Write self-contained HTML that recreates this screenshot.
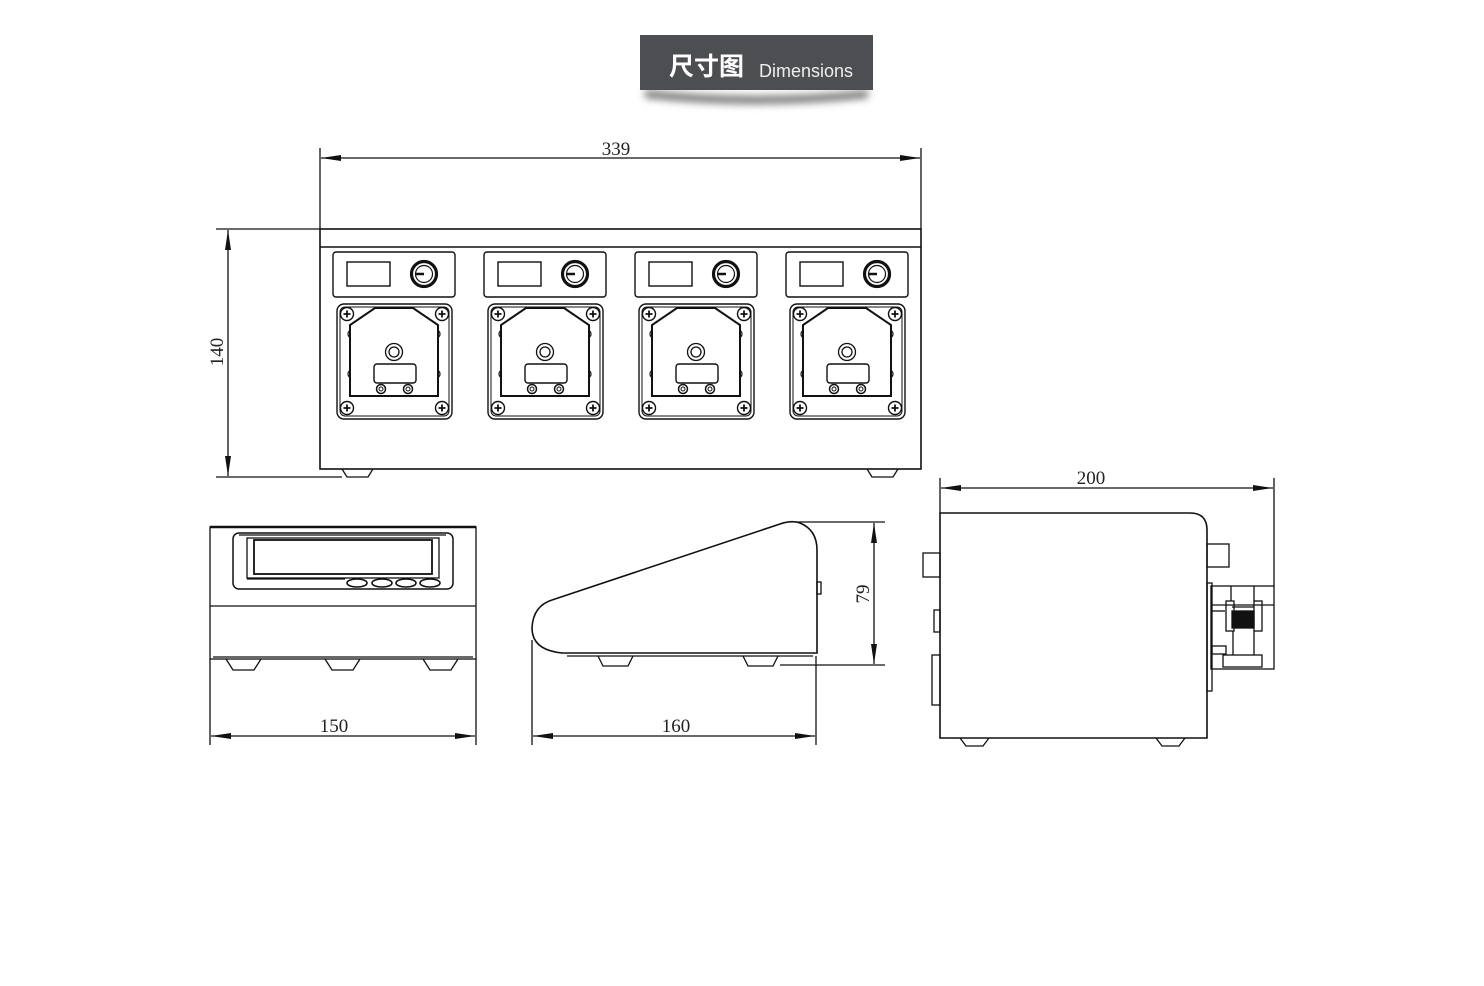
<!DOCTYPE html>
<html><head><meta charset="utf-8"><style>
html,body{margin:0;padding:0;background:#fff;}
svg{display:block}
text{font-family:"Liberation Serif",serif;font-size:19px;fill:#222}
</style></head><body>
<svg width="1484" height="986" viewBox="0 0 1484 986" xmlns="http://www.w3.org/2000/svg">
<defs>
<filter id="sh" x="-20%" y="-50%" width="140%" height="250%"><feGaussianBlur stdDeviation="4"/></filter>
<marker id="a" viewBox="0 0 20 6" refX="20" refY="3" markerWidth="20" markerHeight="6" markerUnits="userSpaceOnUse" orient="auto-start-reverse"><path d="M0,0 L20,3 L0,6 Z" fill="#111"/></marker>
<g id="mod" fill="none" stroke="#111">
  <rect x="333" y="252" width="122" height="45" rx="3" stroke-width="1.4"/>
  <rect x="347" y="262" width="43" height="24" stroke-width="1.4"/>
  <circle cx="424" cy="274" r="12.5" stroke-width="3.2"/>
  <circle cx="424" cy="274" r="8.5" stroke-width="1.2"/>
  <line x1="416" y1="274" x2="424" y2="274" stroke-width="2.5"/>
  <rect x="337" y="304" width="115" height="115" rx="7" stroke-width="1.4"/>
  <rect x="340" y="307" width="109" height="109" rx="5" stroke-width="1"/>
  <g stroke-width="1.4">
   <circle cx="347" cy="314" r="6.5"/><circle cx="442" cy="314" r="6.5"/><circle cx="347" cy="408" r="6.5"/><circle cx="442" cy="408" r="6.5"/>
  </g>
  <path d="M343.5,314h7M347,310.5v7M438.5,314h7M442,310.5v7M343.5,408h7M347,404.5v7M438.5,408h7M442,404.5v7" stroke-width="1.8"/>
  <path d="M350,396 V325 L375,308 H413 L438,325 V396 Z" stroke-width="2"/>
  <path d="M350,331 a2,3 0 0 0 0,6 M350,371 a2,3 0 0 0 0,6 M438,331 a2,3 0 0 1 0,6 M438,371 a2,3 0 0 1 0,6" stroke-width="1.2"/>
  <circle cx="394" cy="352" r="8.5" stroke-width="1.3"/>
  <circle cx="394" cy="352" r="5" stroke-width="1.3"/>
  <rect x="374" y="364" width="42" height="19" rx="3" stroke-width="1.4"/>
  <circle cx="381" cy="389" r="4.5" stroke-width="1.5"/><circle cx="381" cy="389" r="2" stroke-width="1"/>
  <circle cx="408" cy="389" r="4.5" stroke-width="1.5"/><circle cx="408" cy="389" r="2" stroke-width="1"/>
</g>
</defs>

<!-- title -->
<path d="M645,90 Q756,102 868,90 L868,98 Q756,110 645,98 Z" fill="#777" filter="url(#sh)"/>
<rect x="640" y="35" width="233" height="55" fill="#4d4e52"/>
<text x="669" y="75" style="font-family:'Noto Sans CJK SC','WenQuanYi Zen Hei',sans-serif;font-size:25px;font-weight:bold;fill:#fff">尺寸图</text>
<text x="759" y="77" style="font-family:'Liberation Sans',sans-serif;font-size:18px;fill:#eee">Dimensions</text>

<g fill="none" stroke="#111" stroke-width="1.3">
<!-- front view -->
<line x1="320" y1="148" x2="320" y2="229"/><line x1="921" y1="148" x2="921" y2="229"/>
<line x1="321" y1="158" x2="920" y2="158" marker-start="url(#a)" marker-end="url(#a)"/>
<line x1="216" y1="229" x2="320" y2="229"/><line x1="216" y1="477" x2="342" y2="477"/>
<line x1="228" y1="230" x2="228" y2="476" marker-start="url(#a)" marker-end="url(#a)"/>
<rect x="320" y="229" width="601" height="240" stroke-width="1.6"/>
<line x1="320" y1="247" x2="921" y2="247" stroke-width="1.6"/>
<path d="M342,469 L347,477 H368 L373,469 M867,469 L872,477 H893 L898,469"/>

<!-- left side view -->
<rect x="210" y="527" width="266" height="132"/>
<line x1="210" y1="527" x2="476" y2="527" stroke-width="2.5"/>
<line x1="210" y1="606" x2="476" y2="606"/>
<line x1="213" y1="657" x2="473" y2="657"/>
<rect x="233" y="533" width="220" height="56" rx="6" stroke-width="1.5"/>
<line x1="239" y1="535" x2="446" y2="535"/>
<rect x="247" y="538" width="192" height="40"/>
<rect x="254" y="540" width="178" height="34" stroke-width="1.8"/>
<line x1="247" y1="579" x2="345" y2="579"/>
<g stroke-width="1.6"><ellipse cx="357" cy="583" rx="10" ry="4"/><ellipse cx="382" cy="583" rx="10" ry="4"/><ellipse cx="406" cy="583" rx="10" ry="4"/><ellipse cx="430" cy="583" rx="10" ry="4"/></g>
<path d="M226,659 L233,670 H254 L261,659 M325,659 L332,670 H353 L360,659 M423,659 L430,670 H451 L458,659"/>
<line x1="210" y1="659" x2="210" y2="745"/><line x1="476" y1="659" x2="476" y2="745"/>
<line x1="211" y1="736" x2="475" y2="736" marker-start="url(#a)" marker-end="url(#a)"/>

<!-- wedge view -->
<path d="M562,653 Q532,650 532,628 Q533,606 552,600 L780,524 Q792,520 800,523 Q817,530 817,550 V653 Z" stroke-width="1.6"/>
<line x1="567" y1="656" x2="813" y2="656"/>
<path d="M598,656 L603,666 H628 L633,656 M743,656 L748,666 H773 L778,656"/>
<rect x="817" y="582" width="4" height="12"/>
<line x1="532" y1="640" x2="532" y2="745"/><line x1="816" y1="656" x2="816" y2="745"/>
<line x1="533" y1="736" x2="815" y2="736" marker-start="url(#a)" marker-end="url(#a)"/>
<line x1="795" y1="522" x2="885" y2="522"/><line x1="780" y1="665" x2="885" y2="665"/>
<line x1="874" y1="523" x2="874" y2="664" marker-start="url(#a)" marker-end="url(#a)"/>

<!-- right side view -->
<path d="M940,738 V513 H1190 Q1207,513 1207,530 V738 Z" stroke-width="1.6"/>
<path d="M960,738 L966,746 H983 L989,738 M1156,738 L1162,746 H1179 L1185,738"/>
<rect x="923" y="553" width="17" height="24"/>
<rect x="934" y="610" width="6" height="22"/>
<rect x="932" y="655" width="8" height="50"/>
<rect x="1207" y="544" width="22" height="23"/>
<rect x="1207" y="583" width="5" height="108"/>
<rect x="1211" y="586" width="63" height="83"/>
<line x1="1231" y1="586" x2="1231" y2="601"/><line x1="1254" y1="586" x2="1254" y2="601"/>
<line x1="1212" y1="605" x2="1274" y2="605"/><line x1="1212" y1="611" x2="1225" y2="611"/>
<rect x="1226" y="601" width="8" height="30"/><rect x="1254" y="601" width="8" height="30"/>
<rect x="1232" y="611" width="22" height="17" fill="#111"/>
<line x1="1232" y1="607" x2="1254" y2="607"/>
<line x1="1233" y1="631" x2="1233" y2="655"/><line x1="1254" y1="631" x2="1254" y2="655"/>
<rect x="1212" y="646" width="14" height="8"/>
<rect x="1223" y="655" width="39" height="12"/>
<line x1="940" y1="478" x2="940" y2="513"/><line x1="1274" y1="478" x2="1274" y2="586"/>
<line x1="941" y1="488" x2="1273" y2="488" marker-start="url(#a)" marker-end="url(#a)"/>
</g>

<use href="#mod"/>
<use href="#mod" x="151"/>
<use href="#mod" x="302"/>
<use href="#mod" x="453"/>

<text x="616" y="155" text-anchor="middle">339</text>
<text x="0" y="0" text-anchor="middle" transform="translate(223,352) rotate(-90)">140</text>
<text x="334" y="732" text-anchor="middle">150</text>
<text x="676" y="732" text-anchor="middle">160</text>
<text x="0" y="0" text-anchor="middle" transform="translate(869,594) rotate(-90)">79</text>
<text x="1091" y="484" text-anchor="middle">200</text>
</svg>
</body></html>
